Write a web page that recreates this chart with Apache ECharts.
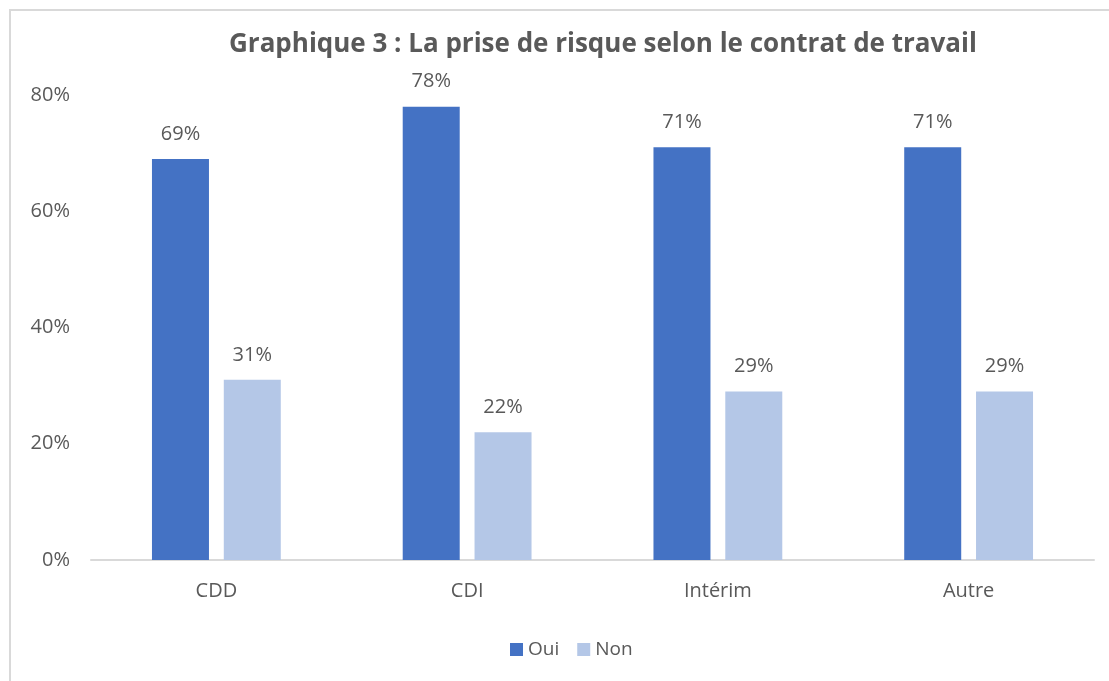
<!DOCTYPE html>
<html>
<head>
<meta charset="utf-8">
<script src="https://cdn.jsdelivr.net/npm/echarts@6/dist/echarts.min.js"></script>
<style>
  html, body { margin: 0; padding: 0; background: #fff; }
  #main { width: 1109px; height: 681px; }
</style>
</head>
<body>
<div id="main"></div>
<script>
// données
var categories = ['CDD', 'CDI', 'Intérim', 'Autre'];
var oui = [69, 78, 71, 71];
var non = [31, 22, 29, 29];
var yTicks = [0, 20, 40, 60, 80];

var myChart = echarts.init(document.getElementById('main'));
var txt = '#595959';
var font = '"Open Sans", "Liberation Sans", sans-serif';

var option = {
    backgroundColor: '#fff',
    textStyle: { fontFamily: font },
    title: {
        text: 'Graphique 3 : La prise de risque selon le contrat de travail',
        left: 224,
        top: 27,
        textStyle: { color: txt, fontSize: 26, fontWeight: 'bold', fontFamily: font }
    },
    graphic: [{
        type: 'rect',
        shape: { x: 10, y: 10, width: 1200, height: 800 },
        style: { fill: 'none', stroke: '#d9d9d9', lineWidth: 2 },
        silent: true
    }],
    legend: {
        bottom: 17,
        left: 505,
        itemWidth: 13,
        itemHeight: 13,
        itemGap: 18,
        icon: 'rect',
        textStyle: { color: txt, fontSize: 19, fontFamily: font },
        data: ['Oui', 'Non']
    },
    grid: { left: 91, right: 15, top: 95, bottom: 121 },
    xAxis: {
        type: 'category',
        data: categories,
        axisLine: { lineStyle: { color: '#d9d9d9', width: 2 } },
        axisTick: { show: false },
        axisLabel: { color: txt, fontSize: 20, margin: 21, fontFamily: font }
    },
    yAxis: {
        type: 'value',
        min: yTicks[0],
        max: yTicks[yTicks.length - 1],
        interval: 20,
        splitLine: { show: false },
        axisLine: { show: false },
        axisTick: { show: false },
        axisLabel: { color: txt, fontSize: 20, margin: 21, formatter: '{value}%', fontFamily: font }
    },
    series: [
        {
            name: 'Oui',
            type: 'bar',
            data: oui,
            barWidth: 57,
            barGap: '26%',
            itemStyle: { color: '#4472C4' },
            label: { show: true, position: 'top', distance: 15, color: txt, fontSize: 20, formatter: '{c}%' }
        },
        {
            name: 'Non',
            type: 'bar',
            data: non,
            barWidth: 57,
            itemStyle: { color: '#B4C7E7' },
            label: { show: true, position: 'top', distance: 15, color: txt, fontSize: 20, formatter: '{c}%' }
        }
    ]
};

myChart.setOption(option);
window.addEventListener('resize', function () {
    myChart.resize();
});
</script>
</body>
</html>
